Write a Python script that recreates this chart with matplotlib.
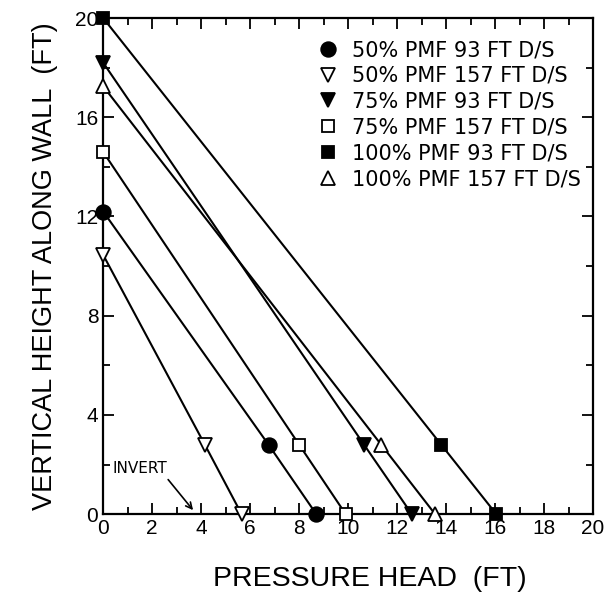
import matplotlib.pyplot as plt
import numpy as np

plt.rcParams['font.family'] = 'Liberation Sans'

# Pressure head (x) and height (y) for each case
labels = ['50% PMF 93 FT D/S', '50% PMF 157 FT D/S', '75% PMF 93 FT D/S',
          '75% PMF 157 FT D/S', '100% PMF 93 FT D/S', '100% PMF 157 FT D/S']
x_50_93 = [0, 6.75, 8.7]
y_50_93 = [12.2, 2.8, 0]
x_50_157 = [0, 4.15, 5.65]
y_50_157 = [10.45, 2.8, 0]
x_75_93 = [0, 10.65, 12.6]
y_75_93 = [18.2, 2.8, 0]
x_75_157 = [0, 8.0, 9.9]
y_75_157 = [14.6, 2.8, 0]
x_100_93 = [0, 13.8, 16.05]
y_100_93 = [20.0, 2.8, 0]
x_100_157 = [0, 11.35, 13.55]
y_100_157 = [17.25, 2.8, 0]

xs = [x_50_93, x_50_157, x_75_93, x_75_157, x_100_93, x_100_157]
ys = [y_50_93, y_50_157, y_75_93, y_75_157, y_100_93, y_100_157]
markers = ['o', 'v', 'v', 's', 's', '^']
sizes = [10.5, 10, 10, 9, 9, 10]
filled = [True, False, True, False, True, False]

fig = plt.figure(figsize=(6.07, 6.02), dpi=100)
ax = fig.add_axes([0.170, 0.146, 0.807, 0.824])

for x, y, m, ms, f, lab in zip(xs, ys, markers, sizes, filled, labels):
    ax.plot(x, y, '-', color='black', lw=1.5, marker=m, markersize=ms,
            markerfacecolor='black' if f else 'white', markeredgecolor='black',
            markeredgewidth=1.3, label=lab, clip_on=False, zorder=3)

ax.set_xlim(0, 20)
ax.set_ylim(0, 20)
ax.set_xticks(np.arange(0, 21, 2))
ax.set_xticks(np.arange(0, 21, 1), minor=True)
ax.set_yticks(np.arange(0, 21, 4))
ax.set_yticks(np.arange(0, 21, 2), minor=True)
ax.tick_params(which='both', direction='in', top=True, right=True, labelsize=15, width=1.3)
ax.tick_params(which='major', length=8)
ax.tick_params(which='minor', length=5)
for s in ax.spines.values():
    s.set_linewidth(1.6)

ax.set_xlabel('PRESSURE HEAD  (FT)', fontsize=20.5, labelpad=20)
ax.xaxis.label.set_x(0.545)
ax.set_ylabel('VERTICAL HEIGHT ALONG WALL  (FT)', fontsize=19.5, labelpad=12)

ax.annotate('INVERT', xy=(3.67, 0.16), xytext=(0.4, 1.85), fontsize=11,
            va='center', family='DejaVu Sans',
            arrowprops=dict(arrowstyle='->', color='black', lw=1.2,
                            shrinkA=1, shrinkB=0, relpos=(0.95, 0.0)))

leg = ax.legend(loc='upper right', frameon=False, handlelength=0.9,
                handletextpad=0.7, labelspacing=0.28, borderaxespad=0.3,
                bbox_to_anchor=(1.005, 0.985),
                prop={'family': 'DejaVu Sans', 'size': 15})
for h in leg.legend_handles:
    h.set_linestyle('')

plt.savefig('out.png', dpi=100)
